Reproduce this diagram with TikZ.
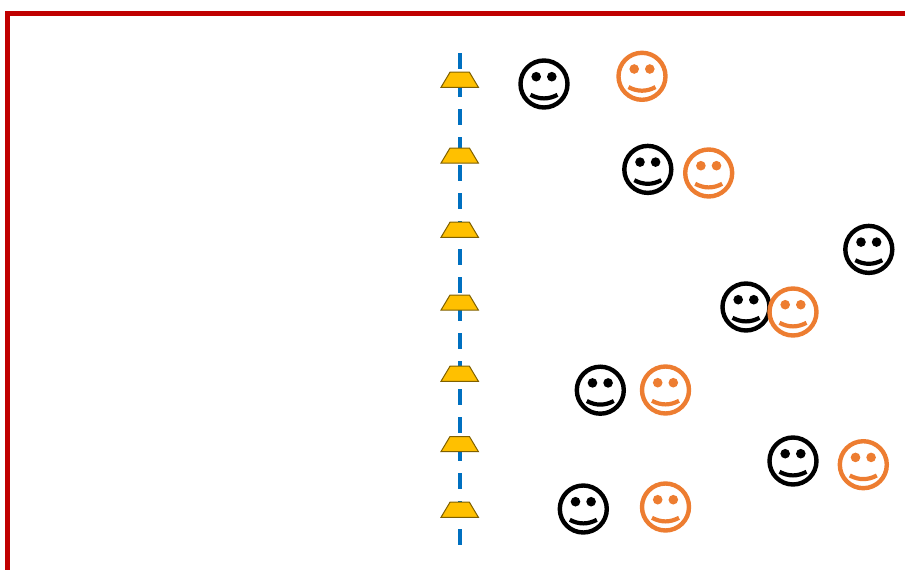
\documentclass[tikz,border=0pt]{standalone}
\definecolor{framered}{HTML}{C00000}
\definecolor{lineblue}{HTML}{0070C0}
\definecolor{lampfill}{HTML}{FFC000}
\definecolor{lampedge}{HTML}{7F6000}
\definecolor{faceorange}{HTML}{ED7D31}
\tikzset{
  frameline/.style={draw=framered,line width=5pt,line join=miter},
  axisline/.style={draw=lineblue,line width=4pt,dash pattern=on 16pt off 12pt},
  lampshape/.style={draw=lampedge,fill=lampfill,line width=1pt,line join=miter},
  pics/smiley/.style={code={
    \draw[line width=4.4pt,draw=#1] (0,0) circle[radius=23.5];
    \fill[#1] (-7.8,-7.3) circle[radius=4.8];
    \fill[#1] (7.8,-7.3) circle[radius=4.8];
    \draw[line width=4.2pt,draw=#1] (-13.5,10.8) .. controls (-4.5,15.6) and (4.5,15.6) .. (13.5,10.8);
  }},
  pics/lamp/.style={code={
    \draw[lampshape] (-18.7,7.6) -- (-9.7,-7.5) -- (9.7,-7.5) -- (18.7,7.6) -- cycle;
  }}
}
\begin{document}
\begin{tikzpicture}[x=1pt,y=-1pt]
\useasboundingbox (0,0) rectangle (905,570);
\draw[frameline] (7.2,570) -- (7.2,13.6) -- (905,13.6);
\draw[axisline] (459.7,53) -- (459.7,545);
\foreach \y in {79.7,155.5,229.7,302.5,373.7,444,509.7}
  \pic at (459.7,\y) {lamp};
\foreach \x/\y in {544/84,647.8/169.4,868.8/249.4,746/307,600.3/390.2,793/461,583.3/509}
  \pic at (\x,\y) {smiley=black};
\foreach \x/\y in {642/76.3,708.7/173,793/312,665.5/390,863.3/464.7,665.5/507}
  \pic at (\x,\y) {smiley=faceorange};
\end{tikzpicture}
\end{document}
